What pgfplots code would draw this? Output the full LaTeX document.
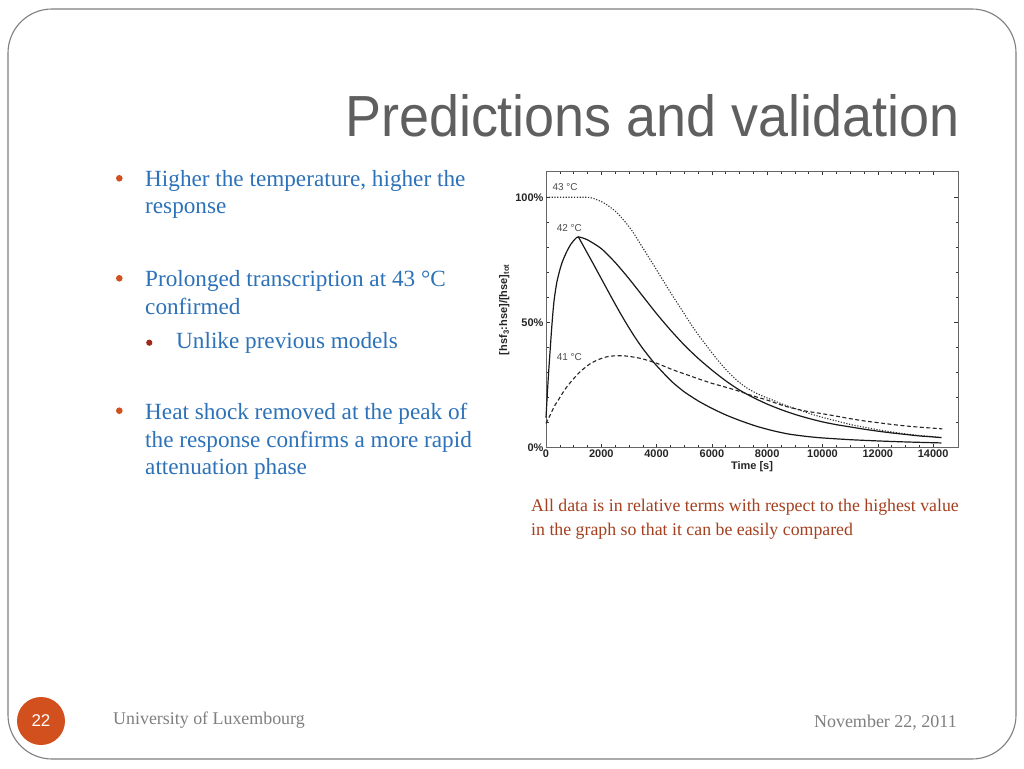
\documentclass[border=0pt]{standalone}
\usepackage{fontspec}
\setmainfont{Liberation Serif}
\newfontfamily\titlefont[FakeStretch=0.93]{Liberation Sans}
\newfontfamily\chartfont{Liberation Sans}
\usepackage{pgfplots}
\pgfplotsset{compat=1.18}

\definecolor{bodyblue}{HTML}{2D72B8}
\definecolor{bulletorange}{HTML}{D2501E}
\definecolor{subred}{HTML}{A3281C}
\definecolor{titlegray}{HTML}{5F5F5F}
\definecolor{footgray}{HTML}{7F7F7F}
\definecolor{capred}{HTML}{A4401F}

% 42 C, heat shock kept on
\pgfplotstableread{
t v
0 12
50 22
100 31
150 39
200 47
250 54
300 59.5
390 66
500 71
600 74.5
750 78.3
900 81.3
1050 83.3
1170 84.2
1500 83
2000 79.5
2500 74
3000 67.5
3500 60.5
4000 53.5
4500 47
5000 41
5500 35.7
6000 31
6500 26.7
7000 23
7500 20
8000 17.4
8500 15.2
9000 13.3
9500 11.7
10000 10.3
10500 9.2
11000 8.3
11500 7.4
12000 6.6
12500 5.9
13000 5.3
13500 4.7
14000 4.3
14300 4.0
}\fortytwo

% 42 C, heat shock removed at the peak
\pgfplotstableread{
t v
1170 84.2
1400 79.6
1700 73.6
2000 67.5
2300 61.4
2600 55.4
2900 49.7
3200 44.4
3500 39.6
3900 34.0
4300 29.2
4600 25.9
5000 22.3
5500 18.7
6000 15.7
6500 13.1
7000 10.9
7600 8.6
8200 6.8
8800 5.4
9500 4.4
10000 3.9
11000 3.2
12000 2.7
13000 2.3
14300 1.9
}\removed

% 43 C
\pgfplotstableread{
t v
0 100
1000 100
1500 100
1700 99.6
2000 98.3
2200 97
2500 94.5
2800 91
3100 86.8
3400 81.6
3700 76.3
4000 71
4300 65.6
4600 60.3
4900 55.2
5200 50
5500 45.2
5800 40.8
6100 36.5
6400 32.5
6700 29
7000 26
7300 23.6
7600 21.8
7900 20.3
8200 19
8500 17.6
8800 16.4
9200 14.9
9600 13.4
10000 12.1
10500 10.7
11000 9.3
11500 8.2
12000 7.2
12500 6.3
13000 5.5
13500 4.9
14000 4.4
14300 4.1
}\fortythree

% 41 C
\pgfplotstableread{
t v
0 9.7
150 13
300 16.5
471 19.5
700 23.5
954 27
1250 30.5
1594 33.5
1900 35.2
2199 36.3
2500 36.7
2801 36.7
3100 36.3
3406 35.7
3700 34.8
4011 33.7
4300 32.4
4612 31
5000 29.5
5460 27.7
6000 25.7
6424 24.4
7000 22.5
7391 21
8000 19
8500 17.1
8841 16
9400 14.6
9928 13.7
10500 12.6
11000 11.6
11500 10.7
12000 10
12500 9.3
13000 8.7
13500 8.2
14000 7.8
14337 7.5
}\fortyone

\begin{document}
\begin{tikzpicture}
\begin{scope}[x=1pt,y=1pt]
\useasboundingbox (0,0) rectangle (1024,768);
\fill[white] (0,0) rectangle (1024,768);
% slide frame
\draw[footgray, line width=1.1pt, rounded corners=44pt] (8,{768-759}) rectangle (1016,{768-9});

% title
\node[anchor=base east, inner sep=0, text=titlegray, font=\titlefont\fontsize{58}{62}\selectfont]
  at (960,{768-137}) {Predictions and validation};

% bullets
\begin{scope}[every node/.style={anchor=base west, inner sep=0, text=bodyblue, font=\fontsize{23.2}{27}\selectfont}]
\node at (145,{768-186.7}) {Higher the temperature, higher the};
\node at (145,{768-214}) {response};
\node at (145,{768-286.7}) {Prolonged transcription at 43 °C};
\node at (145,{768-315}) {confirmed};
\node at (176,{768-348.3}) {Unlike previous models};
\node at (145,{768-419.3}) {Heat shock removed at the peak of};
\node at (145,{768-447.3}) {the response confirms a more rapid};
\node at (145,{768-475}) {attenuation phase};
\end{scope}
\fill[bulletorange] (119.3,{768-178.3}) circle (3.3);
\fill[bulletorange] (119.3,{768-278.3}) circle (3.3);
\fill[subred] (149.3,{768-342.7}) circle (3.1);
\fill[bulletorange] (119.3,{768-410.7}) circle (3.3);

% caption
\node[anchor=base west, inner sep=0, text=capred, font=\fontsize{17.8}{20}\selectfont]
  at (531,{768-512}) {All data is in relative terms with respect to the highest value};
\node[anchor=base west, inner sep=0, text=capred, font=\fontsize{17.8}{20}\selectfont]
  at (531,{768-536}) {in the graph so that it can be easily compared};

% footer
\fill[bulletorange] (41,{768-721}) circle (24);
\node[text=white, font=\chartfont\fontsize{17}{20}\selectfont] at (41,{768-721}) {22};
\node[anchor=base west, inner sep=0, text=footgray, font=\fontsize{17.9}{20}\selectfont]
  at (113,{768-724}) {University of Luxembourg};
\node[anchor=base east, inner sep=0, text=footgray, font=\fontsize{18}{20}\selectfont]
  at (957,{768-727}) {November 22, 2011};
\end{scope}

% chart
\begin{axis}[
    at={(546pt,320.3pt)}, anchor=south west,
    scale only axis, width=412pt, height=276.2pt,
    xmin=0, xmax=14900, ymin=0, ymax=110.3,
    axis line style={black!60, line width=0.7pt},
    tick align=inside, tick pos=both,
    major tick length=4pt, minor tick length=2.5pt,
    every tick/.style={black!80, line width=0.5pt},
    scaled x ticks=false,
    xtick={0,2000,4000,6000,8000,10000,12000,14000},
    xticklabels={0,2000,4000,6000,8000,10000,12000,14000},
    minor x tick num=3,
    ytick={0,50,100},
    yticklabels={0\%,50\%,100\%},
    minor y tick num=4,
    tick label style={font=\chartfont\bfseries\fontsize{11}{12}\selectfont, text=black!85},
    xticklabel style={yshift=1pt},
    yticklabel style={xshift=1pt},
    label style={font=\chartfont\bfseries\fontsize{11}{12}\selectfont, text=black!85},
    xlabel={Time [s]},
    ylabel={[hsf\textsubscript{3}:hse]/[hse]\textsubscript{tot}},
    xlabel style={yshift=3pt},
    ylabel style={yshift=-1pt},
    clip=false,
]
\addplot[black!80, line width=1.1pt, dash pattern=on 1.2pt off 1.6pt, smooth, tension=0.4] table[x=t, y=v] {\fortythree};
\addplot[black!90, line width=1.2pt, smooth, tension=0.4] table[x=t, y=v] {\fortytwo};
\addplot[black!90, line width=1.2pt, smooth, tension=0.4] table[x=t, y=v] {\removed};
\addplot[black!85, line width=1.1pt, dash pattern=on 4pt off 2.5pt, smooth, tension=0.4] table[x=t, y=v] {\fortyone};
\node[font=\chartfont\fontsize{10}{12}\selectfont, text=black!70] at (axis cs:690,104.2) {43 °C};
\node[font=\chartfont\fontsize{10}{12}\selectfont, text=black!70] at (axis cs:845,87.6) {42 °C};
\node[font=\chartfont\fontsize{10}{12}\selectfont, text=black!70] at (axis cs:845,36.1) {41 °C};
\end{axis}
\end{tikzpicture}
\end{document}
